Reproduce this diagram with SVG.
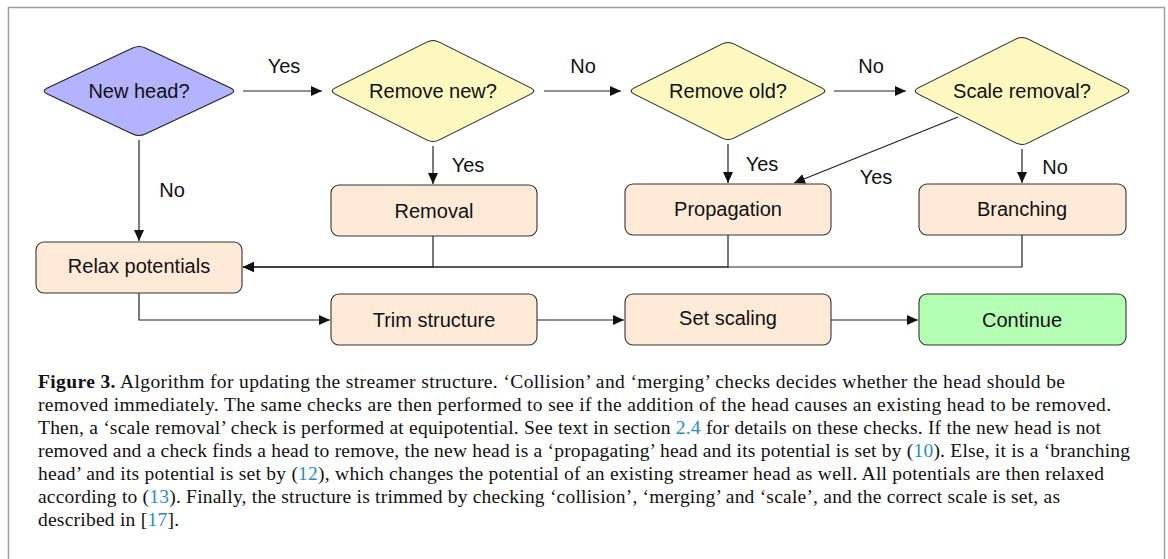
<svg xmlns="http://www.w3.org/2000/svg" width="1168" height="559" viewBox="0 0 1168 559">
<defs>
<marker id="arr" markerUnits="userSpaceOnUse" markerWidth="13" markerHeight="11" refX="11" refY="5" orient="auto">
<path d="M0,0 L11,5 L0,10 Z" fill="#111"/>
</marker>
<style>
.dq{fill:#fcf8c0;stroke:#222;stroke-width:1.1}
.dqb{fill:#b3b3ff;stroke:#222;stroke-width:1.1}
.bx{fill:#ffead8;stroke:#333;stroke-width:1.1}
.bg{fill:#b3ffb3;stroke:#333;stroke-width:1.1}
.nt{font-family:"Liberation Sans",Arial,sans-serif;font-size:20px;fill:#111;text-anchor:middle}
.el{font-family:"Liberation Sans",Arial,sans-serif;font-size:20px;fill:#111;text-anchor:middle}
.cn{fill:none;stroke:#222;stroke-width:1.2}
.cap{font-family:"Liberation Serif","Times New Roman",serif;font-size:19.5px;fill:#111}
.lk{fill:#2a8bc4}
</style>
</defs>
<rect x="8.5" y="7.5" width="1156" height="560" fill="#fff" stroke="#a0a0a0" stroke-width="1.5"/>

<g id="connectors">
<path class="cn" d="M243,91 H322" marker-end="url(#arr)"/>
<path class="cn" d="M544,91 H621" marker-end="url(#arr)"/>
<path class="cn" d="M834,91 H906" marker-end="url(#arr)"/>
<path class="cn" d="M139,140 V241" marker-end="url(#arr)"/>
<path class="cn" d="M433,146 V184" marker-end="url(#arr)"/>
<path class="cn" d="M728,144 V183" marker-end="url(#arr)"/>
<path class="cn" d="M1022,149 V183" marker-end="url(#arr)"/>
<path class="cn" d="M958,117 L794,183" marker-end="url(#arr)"/>
<path class="cn" d="M433,236 V267 H243" marker-end="url(#arr)"/>
<path class="cn" d="M728,235 V267 H243" marker-end="url(#arr)"/>
<path class="cn" d="M1022,235 V267 H243" marker-end="url(#arr)"/>
<path class="cn" d="M139,293 V320 H330" marker-end="url(#arr)"/>
<path class="cn" d="M537,320 H624" marker-end="url(#arr)"/>
<path class="cn" d="M831,320 H918" marker-end="url(#arr)"/>
<text class="el" x="284" y="73">Yes</text>
<text class="el" x="583" y="73">No</text>
<text class="el" x="871" y="73">No</text>
<text class="el" x="172" y="197">No</text>
<text class="el" x="468" y="172">Yes</text>
<text class="el" x="762" y="171">Yes</text>
<text class="el" x="1055" y="174">No</text>
<text class="el" x="876" y="184">Yes</text>
</g>

<g id="new-head">
<path class="dqb" d="M132.66,47.97 Q139,45 145.34,47.97 L230.66,88.03 Q237,91 230.66,93.97 L145.34,134.03 Q139,137 132.66,134.03 L47.34,93.97 Q41,91 47.34,88.03 Z"/>
<text class="nt" x="139" y="98">New head?</text>
</g>
<g id="remove-new">
<path class="dq" d="M426.74,42.13 Q433,39 439.26,42.13 L530.74,87.87 Q537,91 530.74,94.13 L439.26,139.87 Q433,143 426.74,139.87 L335.26,94.13 Q329,91 335.26,87.87 Z"/>
<text class="nt" x="433" y="98">Remove new?</text>
</g>
<g id="remove-old">
<path class="dq" d="M721.74,44.13 Q728,41 734.26,44.13 L821.74,87.87 Q828,91 821.74,94.13 L734.26,137.87 Q728,141 721.74,137.87 L634.26,94.13 Q628,91 634.26,87.87 Z"/>
<text class="nt" x="728" y="98">Remove old?</text>
</g>
<g id="scale-removal">
<path class="dq" d="M1015.74,39.13 Q1022,36 1028.26,39.13 L1125.74,87.87 Q1132,91 1125.74,94.13 L1028.26,142.87 Q1022,146 1015.74,142.87 L918.26,94.13 Q912,91 918.26,87.87 Z"/>
<text class="nt" x="1022" y="98">Scale removal?</text>
</g>
<g id="removal">
<rect class="bx" x="331" y="185" width="206" height="51" rx="8"/>
<text class="nt" x="434" y="218">Removal</text>
</g>
<g id="propagation">
<rect class="bx" x="625" y="184" width="206" height="51" rx="8"/>
<text class="nt" x="728" y="216">Propagation</text>
</g>
<g id="branching">
<rect class="bx" x="919" y="184" width="207" height="51" rx="8"/>
<text class="nt" x="1022" y="216">Branching</text>
</g>
<g id="relax-potentials">
<rect class="bx" x="36" y="242" width="206" height="51" rx="8"/>
<text class="nt" x="139" y="273">Relax potentials</text>
</g>
<g id="trim-structure">
<rect class="bx" x="331" y="294" width="206" height="51" rx="8"/>
<text class="nt" x="434" y="327">Trim structure</text>
</g>
<g id="set-scaling">
<rect class="bx" x="625" y="294" width="206" height="51" rx="8"/>
<text class="nt" x="728" y="325">Set scaling</text>
</g>
<g id="continue">
<rect class="bg" x="919" y="294" width="207" height="51" rx="8"/>
<text class="nt" x="1022" y="327">Continue</text>
</g>

<g id="caption">
<text class="cap" x="38" y="388" textLength="1027" lengthAdjust="spacing"><tspan font-weight="bold">Figure 3.</tspan> Algorithm for updating the streamer structure. ‘Collision’ and ‘merging’ checks decides whether the head should be</text>
<text class="cap" x="38" y="411" textLength="1073" lengthAdjust="spacing">removed immediately. The same checks are then performed to see if the addition of the head causes an existing head to be removed.</text>
<text class="cap" x="38" y="434" textLength="1063" lengthAdjust="spacing">Then, a ‘scale removal’ check is performed at equipotential. See text in section <tspan class="lk">2.4</tspan> for details on these checks. If the new head is not</text>
<text class="cap" x="38" y="457" textLength="1092" lengthAdjust="spacing">removed and a check finds a head to remove, the new head is a ‘propagating’ head and its potential is set by (<tspan class="lk">10</tspan>). Else, it is a ‘branching</text>
<text class="cap" x="38" y="480" textLength="1066" lengthAdjust="spacing">head’ and its potential is set by (<tspan class="lk">12</tspan>), which changes the potential of an existing streamer head as well. All potentials are then relaxed</text>
<text class="cap" x="38" y="503" textLength="1022" lengthAdjust="spacing">according to (<tspan class="lk">13</tspan>). Finally, the structure is trimmed by checking ‘collision’, ‘merging’ and ‘scale’, and the correct scale is set, as</text>
<text class="cap" x="38" y="526" textLength="141" lengthAdjust="spacing">described in [<tspan class="lk">17</tspan>].</text>
</g>
</svg>
